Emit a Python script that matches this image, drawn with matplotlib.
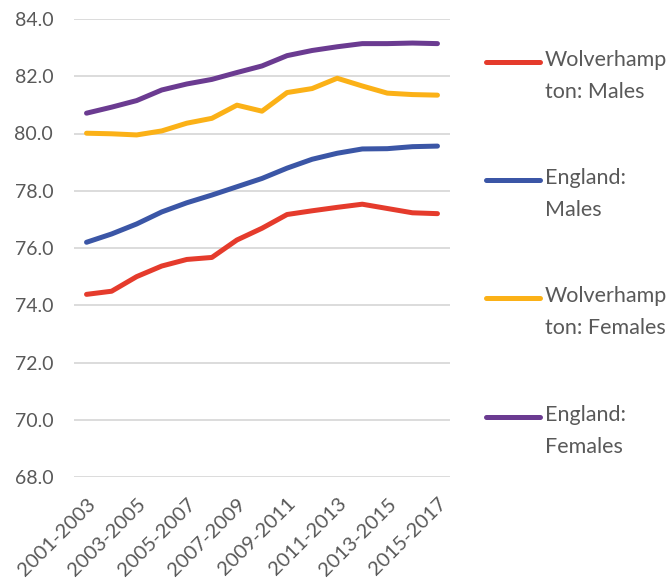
import matplotlib
matplotlib.use("Agg")
import matplotlib.pyplot as plt
from matplotlib.lines import Line2D

periods = ["2001-2003", "2002-2004", "2003-2005", "2004-2006", "2005-2007",
           "2006-2008", "2007-2009", "2008-2010", "2009-2011", "2010-2012",
           "2011-2013", "2012-2014", "2013-2015", "2014-2016", "2015-2017"]

wolv_males = [74.38, 74.49, 75.00, 75.37, 75.60, 75.67, 76.28, 76.69,
              77.17, 77.30, 77.42, 77.53, 77.38, 77.23, 77.20]
eng_males = [76.20, 76.49, 76.84, 77.26, 77.58, 77.85, 78.14, 78.43,
             78.79, 79.10, 79.31, 79.46, 79.47, 79.54, 79.56]
wolv_females = [80.01, 79.99, 79.95, 80.09, 80.36, 80.53, 80.99, 80.78,
                81.43, 81.57, 81.93, 81.66, 81.41, 81.36, 81.34]
eng_females = [80.71, 80.92, 81.15, 81.52, 81.73, 81.89, 82.13, 82.36,
               82.72, 82.90, 83.03, 83.14, 83.14, 83.16, 83.14]

labels = ["Wolverhamp\nton: Males", "England:\nMales",
          "Wolverhamp\nton: Females", "England:\nFemales"]
colors = ["#E53B2C", "#3B56A6", "#FBB117", "#6B3B91"]
yticks = [68, 70, 72, 74, 76, 78, 80, 82, 84]

plt.rcParams["font.family"] = ["Lato", "DejaVu Sans"]
txt = "#595959"

W, H = 670, 582
fig = plt.figure(figsize=(W / 100, H / 100), dpi=100)
ax = fig.add_axes([74 / W, 1 - 477 / H, 376 / W, 458 / H])

x = list(range(len(periods)))
for ys, c in zip([wolv_males, eng_males, wolv_females, eng_females], colors):
    ax.plot(x, ys, color=c, lw=3.6, solid_capstyle="round", solid_joinstyle="round")

ax.set_xlim(-0.5, len(periods) - 0.5)
ax.set_ylim(68, 84)
ax.set_yticks(yticks)
ax.set_yticklabels([f"{v:.1f}" for v in yticks], fontsize=14, color=txt)
ax.set_xticks(x[::2])
ax.set_xticklabels(periods[::2], rotation=45, ha="right", rotation_mode="anchor",
                   fontsize=14.5, color=txt)
ax.tick_params(axis="y", length=0, pad=15)
ax.tick_params(axis="x", length=0, pad=13)
ax.grid(axis="y", color="#D9D9D9", lw=1.3)
ax.set_axisbelow(True)
for s in ax.spines.values():
    s.set_visible(False)

# legend drawn by hand so the key sits level with the first text line
leg_y = [62, 180, 298, 417]
for lab, c, yp in zip(labels, colors, leg_y):
    yf = 1 - yp / H
    fig.add_artist(Line2D([486 / W, 540 / W], [yf, yf], color=c, lw=3.6,
                          solid_capstyle="round", transform=fig.transFigure))
    fig.text(545 / W, yf + 12 / H, lab, fontsize=15.5, color=txt, va="top",
             ha="left", linespacing=1.75)

fig.savefig("out.png", dpi=100)
